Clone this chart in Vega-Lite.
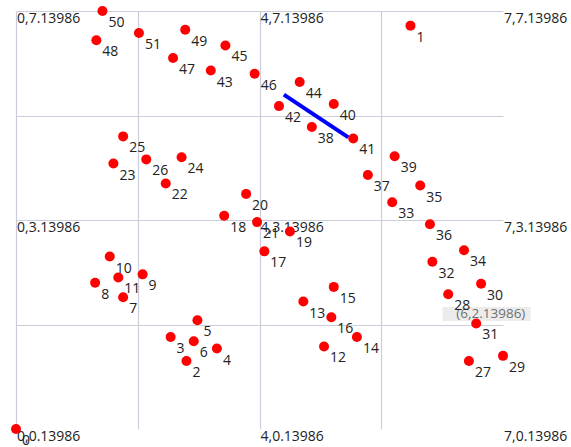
{
  "$schema": "https://vega.github.io/schema/vega-lite/v6.json",
  "autosize": "none",
  "padding": {"left": 16, "top": 11, "right": 68, "bottom": 18},
  "width": 487,
  "height": 418,
  "config": {"view": {"stroke": null}, "font": "Open Sans"},
  "datasets": {
    "pts": [
      {"id": "0", "x": 0.0, "y": 0.0},
      {"id": "1", "x": 3.24, "y": 3.86},
      {"id": "2", "x": 1.40, "y": 0.65},
      {"id": "3", "x": 1.27, "y": 0.88},
      {"id": "4", "x": 1.65, "y": 0.77},
      {"id": "5", "x": 1.49, "y": 1.04},
      {"id": "6", "x": 1.46, "y": 0.84},
      {"id": "7", "x": 0.88, "y": 1.26},
      {"id": "8", "x": 0.65, "y": 1.40},
      {"id": "9", "x": 1.04, "y": 1.48},
      {"id": "10", "x": 0.77, "y": 1.65},
      {"id": "11", "x": 0.84, "y": 1.45},
      {"id": "12", "x": 2.53, "y": 0.79},
      {"id": "13", "x": 2.36, "y": 1.22},
      {"id": "14", "x": 2.80, "y": 0.88},
      {"id": "15", "x": 2.61, "y": 1.36},
      {"id": "16", "x": 2.59, "y": 1.07},
      {"id": "17", "x": 2.04, "y": 1.70},
      {"id": "18", "x": 1.71, "y": 2.04},
      {"id": "19", "x": 2.25, "y": 1.89},
      {"id": "20", "x": 1.89, "y": 2.25},
      {"id": "21", "x": 1.98, "y": 1.98},
      {"id": "22", "x": 1.23, "y": 2.35},
      {"id": "23", "x": 0.80, "y": 2.54},
      {"id": "24", "x": 1.36, "y": 2.60},
      {"id": "25", "x": 0.88, "y": 2.80},
      {"id": "26", "x": 1.07, "y": 2.58},
      {"id": "27", "x": 3.72, "y": 0.65},
      {"id": "28", "x": 3.55, "y": 1.29},
      {"id": "29", "x": 4.00, "y": 0.70},
      {"id": "30", "x": 3.82, "y": 1.39},
      {"id": "31", "x": 3.78, "y": 1.01},
      {"id": "32", "x": 3.42, "y": 1.60},
      {"id": "33", "x": 3.09, "y": 2.17},
      {"id": "34", "x": 3.68, "y": 1.71},
      {"id": "35", "x": 3.32, "y": 2.33},
      {"id": "36", "x": 3.40, "y": 1.96},
      {"id": "37", "x": 2.89, "y": 2.43},
      {"id": "38", "x": 2.43, "y": 2.89},
      {"id": "39", "x": 3.11, "y": 2.61},
      {"id": "40", "x": 2.61, "y": 3.11},
      {"id": "41", "x": 2.77, "y": 2.78},
      {"id": "42", "x": 2.16, "y": 3.09},
      {"id": "43", "x": 1.60, "y": 3.43},
      {"id": "44", "x": 2.33, "y": 3.32},
      {"id": "45", "x": 1.72, "y": 3.67},
      {"id": "46", "x": 1.96, "y": 3.40},
      {"id": "47", "x": 1.29, "y": 3.55},
      {"id": "48", "x": 0.66, "y": 3.72},
      {"id": "49", "x": 1.39, "y": 3.82},
      {"id": "50", "x": 0.71, "y": 4.00},
      {"id": "51", "x": 1.01, "y": 3.79}
    ],
    "corners": [
      {"label": "0,7.13986", "x": 0, "y": 4},
      {"label": "4,7.13986", "x": 2, "y": 4},
      {"label": "7,7.13986", "x": 4, "y": 4},
      {"label": "0,3.13986", "x": 0, "y": 2},
      {"label": "4,3.13986", "x": 2, "y": 2},
      {"label": "7,3.13986", "x": 4, "y": 2},
      {"label": "0,0.13986", "x": 0, "y": 0},
      {"label": "4,0.13986", "x": 2, "y": 0},
      {"label": "7,0.13986", "x": 4, "y": 0}
    ],
    "seg": [{"x": 2.20, "y": 3.20, "x2": 2.73, "y2": 2.79}],
    "tip": [{"label": "(6,2.13986)", "x": 3.503, "x2": 4.227, "y": 1.167, "y2": 1.033, "xm": 3.90, "ym": 1.10}]
  },
  "layer": [
    {
      "data": {"name": "corners"},
      "mark": {"type": "text", "align": "left", "baseline": "middle", "dx": 1, "dy": 8, "fontSize": 14, "color": "#222222"},
      "encoding": {
        "x": {"field": "x", "type": "quantitative", "scale": {"domain": [0, 4], "nice": false, "zero": false},
          "axis": {"values": [0, 1, 2, 3], "grid": true, "gridColor": "#ccccdd", "gridWidth": 1.2, "labels": false, "ticks": false, "domain": false, "title": null}},
        "y": {"field": "y", "type": "quantitative", "scale": {"domain": [0, 4], "nice": false, "zero": false},
          "axis": {"values": [1, 2, 3, 4], "grid": true, "gridColor": "#ccccdd", "gridWidth": 1.2, "labels": false, "ticks": false, "domain": false, "title": null}},
        "text": {"field": "label"}
      }
    },
    {
      "data": {"name": "tip"},
      "mark": {"type": "rect", "color": "#ececec"},
      "encoding": {
        "x": {"field": "x", "type": "quantitative"},
        "x2": {"field": "x2"},
        "y": {"field": "y", "type": "quantitative"},
        "y2": {"field": "y2"}
      }
    },
    {
      "data": {"name": "tip"},
      "mark": {"type": "text", "align": "center", "baseline": "middle", "fontSize": 13.5, "color": "#707070"},
      "encoding": {
        "x": {"field": "xm", "type": "quantitative"},
        "y": {"field": "ym", "type": "quantitative"},
        "text": {"field": "label"}
      }
    },
    {
      "data": {"name": "seg"},
      "mark": {"type": "rule", "color": "#0000ff", "strokeWidth": 4},
      "encoding": {
        "x": {"field": "x", "type": "quantitative"},
        "y": {"field": "y", "type": "quantitative"},
        "x2": {"field": "x2"},
        "y2": {"field": "y2"}
      }
    },
    {
      "data": {"name": "pts"},
      "mark": {"type": "point", "shape": "circle", "filled": true, "color": "#ff0000", "opacity": 1, "size": 100},
      "encoding": {
        "x": {"field": "x", "type": "quantitative"},
        "y": {"field": "y", "type": "quantitative"}
      }
    },
    {
      "data": {"name": "pts"},
      "mark": {"type": "text", "align": "left", "baseline": "middle", "dx": 6, "dy": 12, "fontSize": 14, "color": "#222222"},
      "encoding": {
        "x": {"field": "x", "type": "quantitative"},
        "y": {"field": "y", "type": "quantitative"},
        "text": {"field": "id"}
      }
    }
  ]
}
